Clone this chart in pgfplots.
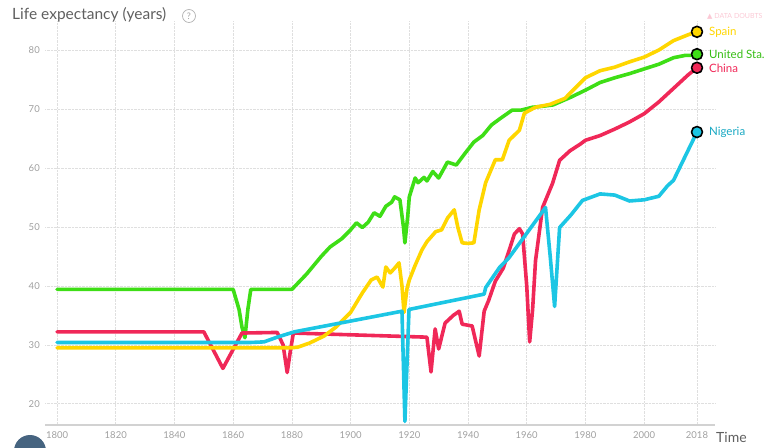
\documentclass[border=0pt]{standalone}
\usepackage{pgfplots}
\pgfplotsset{compat=1.18}
\usepackage{fontspec}
\setmainfont{Lato}
\newfontfamily\symfont{DejaVu Sans}

\definecolor{usgreen}{RGB}{62,222,22}
\definecolor{spyellow}{RGB}{255,214,0}
\definecolor{cnred}{RGB}{240,40,88}
\definecolor{ngblue}{RGB}{28,198,228}
\definecolor{ticklab}{RGB}{160,160,160}
\definecolor{titlegray}{RGB}{95,95,95}
\definecolor{btnblue}{RGB}{70,100,128}

\begin{document}
\begin{tikzpicture}[x=1pt,y=1pt]
\begin{axis}[
    name=ax,
    scale only axis,
    width=669.3pt, height=404.4pt,
    xmin=1796, xmax=2024,
    ymin=16.4, ymax=85,
    axis line style={draw=none},
    axis x line*=bottom,
    axis y line*=left,
    x axis line style={draw=gray!35, line width=1.2},
    xtick={1800,1820,1840,1860,1880,1900,1920,1940,1960,1980,2000,2018},
    ytick={20,30,40,50,60,70,80},
    major tick length=0,
    grid=major,
    major grid style={densely dotted, gray!25, line width=0.6},
    /pgf/number format/1000 sep={},
    /pgf/number format/assume math mode=true,
    tick label style={text=ticklab, font=\fontsize{9.5}{10}\selectfont},
    xticklabel style={yshift=-3},
    yticklabel style={xshift=-2},
    clip=false,
    every axis plot/.append style={line width=3.6, line join=round, line cap=round},
]

% United States
\addplot[usgreen] coordinates {
 (1800,39.4) (1860,39.4) (1862,36) (1863,33) (1864,31.2) (1865,36) (1866,39.4)
 (1880,39.4) (1885,42) (1890,45) (1893,46.6) (1897,48) (1900,49.5) (1902,50.7)
 (1904,49.9) (1906,50.8) (1908,52.4) (1910,51.8) (1912,53.5) (1914,54.2) (1915,55.1)
 (1916.8,54.6) (1918,50) (1918.5,47.3) (1919.5,52) (1920,55.1) (1922,58.3) (1923,57.5)
 (1925,58.4) (1926,57.8) (1928,59.4) (1930,58.3) (1933,61) (1936,60.5) (1939,62.5)
 (1942,64.4) (1945,65.5) (1948,67.3) (1951,68.4) (1955,69.8) (1958,69.8) (1962,70.3)
 (1966,70.5) (1969,70.7) (1975,72) (1980,73.2) (1985,74.5) (1990,75.3) (1995,76)
 (2000,76.8) (2005,77.6) (2010,78.7) (2014,79.1) (2018,79.1)
};

% China
\addplot[cnred] coordinates {
 (1800,32.2) (1850,32.2) (1856.5,26) (1863,32) (1875,32.1) (1877,30) (1878.4,25.3)
 (1879.5,29) (1880.5,32) (1900,31.7) (1926,31.3) (1927.4,25.4) (1928.8,32.7)
 (1930,29.3) (1932.2,33.7) (1935,35) (1937,35.7) (1938,33.5) (1941.4,33.2)
 (1943.8,28.1) (1945.5,35.7) (1947,37.5) (1949.3,40.8) (1952,43) (1954,46)
 (1955.8,48.8) (1957.5,49.7) (1958.6,48.8) (1960,40) (1961,30.5) (1962,36)
 (1963,44.3) (1965.4,53.3) (1968.8,57.4) (1971.2,61.3) (1974.7,62.9) (1978.4,64.1)
 (1980,64.7) (1985,65.5) (1990,66.6) (1995,67.8) (2000,69.2) (2005,71.2)
 (2010,73.5) (2015,75.8) (2018,77)
};

% Spain
\addplot[spyellow] coordinates {
 (1800,29.5) (1880,29.5) (1882,29.6) (1886,30.3) (1891,31.5) (1895,33) (1900,35.5)
 (1904,38.8) (1907,41) (1909,41.5) (1911,39.8) (1912,43.2) (1913.5,42.2) (1915,43)
 (1916.5,43.9) (1917.5,40) (1918.2,35.5) (1919.2,39.5) (1920,41) (1922,43.5)
 (1924.3,46.1) (1926,47.5) (1929,49.2) (1931,49.5) (1933,51.5) (1935.3,52.9)
 (1936.5,50) (1938,47.3) (1940,47.2) (1942,47.3) (1943.8,52.9) (1946,57.5)
 (1949.3,61.4) (1951.7,61.4) (1954,64.7) (1957.5,66.4) (1959.2,69.3) (1963,70.3)
 (1968,70.8) (1973,71.8) (1980,75.3) (1985,76.5) (1990,77.1) (1995,78) (2000,78.8)
 (2005,80) (2010,81.6) (2015,82.6) (2018,83.1)
};

% Nigeria
\addplot[ngblue] coordinates {
 (1800,30.4) (1866,30.4) (1870.5,30.5) (1875,31.3) (1880.8,32.2) (1917.5,35.7)
 (1918.5,17) (1919.9,36) (1945.5,38.6) (1946,39.7) (1950.7,43.1) (1954,44.8)
 (1966.4,53.3) (1968,45) (1969.5,36.5) (1971.2,49.9) (1975,52) (1979,54.5)
 (1985,55.6) (1990,55.4) (1995,54.4) (2000,54.6) (2005,55.2) (2008,57)
 (2010,57.9) (2014,62) (2018,66.1)
};

% end markers and names
\addplot[only marks, mark=*, mark size=5.5, mark options={fill=spyellow, draw=black, line width=1.6}]
  coordinates {(2018,83.1)} node[right=7pt, text=spyellow, font=\fontsize{11.5}{12}\selectfont] {Spain};
\addplot[only marks, mark=*, mark size=5.5, mark options={fill=usgreen, draw=black, line width=1.6}]
  coordinates {(2018,79.3)} node[right=7pt, text=usgreen!85!black, font=\fontsize{11.5}{12}\selectfont] {United Sta.};
\addplot[only marks, mark=*, mark size=5.5, mark options={fill=cnred, draw=black, line width=1.6}]
  coordinates {(2018,77)} node[right=7pt, yshift=-1pt, text=cnred, font=\fontsize{11.5}{12}\selectfont] {China};
\addplot[only marks, mark=*, mark size=5.5, mark options={fill=ngblue, draw=black, line width=1.6}]
  coordinates {(2018,66.1)} node[right=7pt, text=ngblue!85!black, font=\fontsize{11.5}{12}\selectfont] {Nigeria};

\end{axis}

\begin{scope}[shift={(ax.south west)}, shift={(-45.3,-22)}]
\useasboundingbox (0,0) rectangle (770,447);
% dark round button, bottom left (cut by the page)
\fill[btnblue] (30,-4) circle (16);
\node[anchor=base west, text=titlegray, font=\fontsize{15.5}{17}\selectfont, inner sep=0]
  at (12,427) {Life expectancy (years)};
\draw[ticklab!80, line width=0.7] (189,431) circle (6.5);
\node[text=ticklab, font=\fontsize{9}{10}\selectfont, inner sep=0] at (189,431) {?};
\node[anchor=base west, text=cnred!25, font=\fontsize{7}{8}\selectfont, inner sep=0]
  at (707,428) {{\symfont ▲} DATA DOUBTS};
\node[anchor=base west, text=titlegray, font=\fontsize{14}{15}\selectfont, inner sep=0]
  at (716,5) {Time};
\end{scope}
\end{tikzpicture}
\end{document}
